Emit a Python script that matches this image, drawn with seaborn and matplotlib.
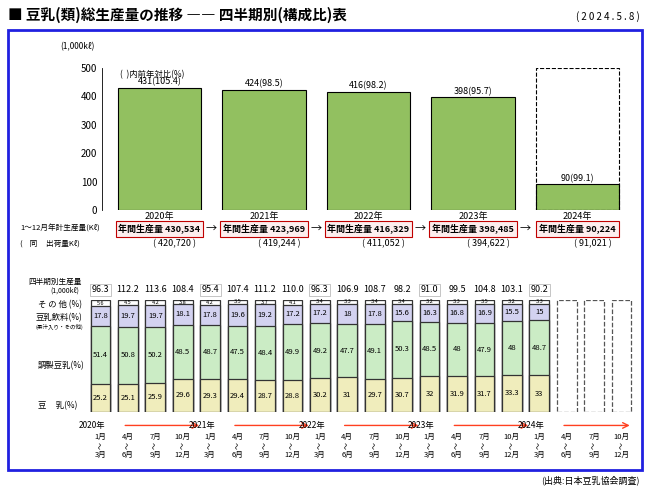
import numpy as np
import pandas as pd
import matplotlib
matplotlib.use("Agg")
import matplotlib.pyplot as plt
import matplotlib.patches as mpatches
import seaborn as sns

plt.rcParams["font.family"] = "Noto Sans CJK JP"

# ---- data ----
years = ["2020年", "2021年", "2022年", "2023年", "2024年"]
annual_k = [431, 424, 416, 398, 90]
annual_yoy = ["105.4", "98.5", "98.2", "95.7", "99.1"]
annual_prod = ["430,534", "423,969", "416,329", "398,485", "90,224"]
annual_ship = ["420,720", "419,244", "411,052", "394,622", "91,021"]

q_total = [96.3, 112.2, 113.6, 108.4, 95.4, 107.4, 111.2, 110.0, 96.3, 106.9,
           108.7, 98.2, 91.0, 99.5, 104.8, 103.1, 90.2]
q_soy = [25.2, 25.1, 25.9, 29.6, 29.3, 29.4, 28.7, 28.8, 30.2, 31, 29.7, 30.7,
         32, 31.9, 31.7, 33.3, 33]
q_prep = [51.4, 50.8, 50.2, 48.5, 48.7, 47.5, 48.4, 49.9, 49.2, 47.7, 49.1, 50.3,
          48.5, 48, 47.9, 48, 48.7]
q_drink = [17.8, 19.7, 19.7, 18.1, 17.8, 19.6, 19.2, 17.2, 17.2, 18, 17.8, 15.6,
           16.3, 16.8, 16.9, 15.5, 15]
q_other = [5.6, 4.5, 4.2, 3.8, 4.2, 3.5, 3.7, 4.1, 3.4, 3.3, 3.4, 3.4, 3.2, 3.3,
           3.5, 3.2, 3.3]
q_start = ["1月", "4月", "7月", "10月"]
q_end = ["3月", "6月", "9月", "12月"]
n_slots = 20

fig = plt.figure(figsize=(6.5, 4.88), dpi=100)
W, H = 650, 488

def fx(px):
    return px / W

def fy(py):
    return 1 - py / H

# frame and header
fig.patches.append(mpatches.Rectangle((fx(8), fy(470)), fx(634), 440 / H, transform=fig.transFigure,
                                      fill=False, edgecolor="#2020e0", lw=2))
fig.text(fx(8), fy(15), "■ 豆乳(類)総生産量の推移 ―― 四半期別(構成比)表", fontsize=10.5,
         fontweight="bold", va="center")
fig.text(fx(640), fy(17), "( 2 0 2 4 . 5 . 8 )", fontsize=7, va="center", ha="right")
fig.text(fx(640), fy(480), "(出典:日本豆乳協会調査)", fontsize=6.5, va="center", ha="right")

# ---- top annual chart ----
ax1 = fig.add_axes([fx(102), fy(210), fx(533), 142 / H])
df1 = pd.DataFrame({"year": years, "k": annual_k})
sns.barplot(data=df1, x="year", y="k", color="#92d050", edgecolor="black", linewidth=0.8,
            width=0.8, ax=ax1)
ax1.bar([4], [500], width=0.8, fill=False, edgecolor="black", ls="--", lw=0.8)
ax1.set_ylim(0, 500)
ax1.set_xlim(-0.55, 4.55)
ax1.set_yticks(range(0, 501, 100))
ax1.tick_params(axis="y", labelsize=7, length=0)
ax1.set_xticks([])
ax1.set_xlabel("")
ax1.set_ylabel("")
for s in ["top", "right", "bottom"]:
    ax1.spines[s].set_visible(False)
ax1.spines["left"].set_linewidth(0.6)
ax1.axhline(0, color="black", lw=0.6)
for i, (v, y) in enumerate(zip(annual_k, annual_yoy)):
    ax1.text(i, v + 4, f"{v}({y})", ha="center", va="bottom", fontsize=6.5)
fig.text(fx(95), fy(47), "(1,000kℓ)", fontsize=6, ha="right", va="center")
ax1.text(-0.38, 478, "(  )内前年対比(%)", fontsize=6, va="center")

for i in range(5):
    x = ax1.transData.transform((i, 0))[0] / fig.dpi / 6.5
    fig.text(x, fy(217), years[i], ha="center", va="center", fontsize=6.5)
    fig.text(x, fy(229), f"年間生産量 {annual_prod[i]}", ha="center", va="center", fontsize=6.5,
             fontweight="bold",
             bbox=dict(boxstyle="square,pad=0.3", fc="#fdeeee", ec="#c00000", lw=0.8))
    fig.text(x + fx(15), fy(244), f"( {annual_ship[i]} )", ha="center", va="center", fontsize=6.5)
    if i < 4:
        fig.text(x + fx(52), fy(229), "→", ha="center", va="center", fontsize=8)
fig.text(fx(20), fy(229), "1～12月年計生産量(Kℓ)", fontsize=5.5, va="center")
fig.text(fx(20), fy(244), "(    同     出荷量Kℓ)", fontsize=5.5, va="center")

# ---- bottom quarterly stacked chart ----
ax2 = fig.add_axes([fx(84), fy(412), fx(554), 112 / H])
idx = list(range(len(q_total)))
layers = [("other", q_other, "white"), ("drink", q_drink, "#cfcdf5"),
          ("prep", q_prep, "#c6f2bf"), ("soy", q_soy, "#f8f4b4")]
cum = np.array(q_soy) + np.array(q_prep) + np.array(q_drink) + np.array(q_other)
for name, vals, col in layers:
    dfq = pd.DataFrame({"q": idx, "v": cum})
    sns.barplot(data=dfq, x="q", y="v", color=col, edgecolor="#333333", linewidth=0.9,
                width=0.72, ax=ax2, native_scale=True)
    cum = cum - np.array(vals)
for j in range(len(q_total), n_slots):
    ax2.bar([j], [100], width=0.72, fill=False, edgecolor="#555555", ls="--", lw=0.9)
ax2.set_xlim(-0.6, n_slots - 0.4)
ax2.set_ylim(0, 100)
ax2.axis("off")

for i in idx:
    b = 0
    for vals in [q_soy, q_prep, q_drink]:
        ax2.text(i, b + vals[i] / 2, f"{vals[i]:g}", ha="center", va="center", fontsize=5.5)
        b += vals[i]
    ax2.text(i, 100 - q_other[i] / 2, f"{q_other[i]:g}", ha="center", va="center", fontsize=4)
    boxed = i % 4 == 0
    ax2.text(i, 105, f"{q_total[i]:.1f}", ha="center", va="bottom", fontsize=6.5,
             bbox=dict(boxstyle="square,pad=0.2", fc="white", ec="#bbbbbb", lw=0.6) if boxed else None)
for i in range(n_slots):
    ax2.text(i, -22, q_start[i % 4], ha="center", va="center", fontsize=5.5)
    ax2.text(i, -30, "～", ha="center", va="center", fontsize=5, rotation=90)
    ax2.text(i, -38, q_end[i % 4], ha="center", va="center", fontsize=5.5)
for k in range(5):
    x0 = 4 * k
    ax2.text(x0 - 0.3, -12, years[k], ha="center", va="center", fontsize=6, clip_on=False)
    ax2.annotate("", xy=(x0 + 3.7 if k < 4 else x0 + 3.4, -12), xytext=(x0 + 0.8, -12),
                 annotation_clip=False,
                 arrowprops=dict(arrowstyle="->", color="#ff4020", lw=1))

fig.text(fx(28), fy(282), "四半期別生産量", fontsize=5.5, va="center")
fig.text(fx(50), fy(291), "(1,000kℓ)", fontsize=5, va="center")
fig.text(fx(38), fy(305), "そ の 他 (%)", fontsize=6, va="center")
fig.text(fx(36), fy(318), "豆乳飲料(%)", fontsize=6, va="center")
fig.text(fx(36), fy(327), "(果汁入り・その他)", fontsize=4, va="center")
fig.text(fx(38), fy(366), "調製豆乳(%)", fontsize=6, va="center")
fig.text(fx(38), fy(406), "豆     乳(%)", fontsize=6, va="center")

fig.savefig("out.png", dpi=100)
